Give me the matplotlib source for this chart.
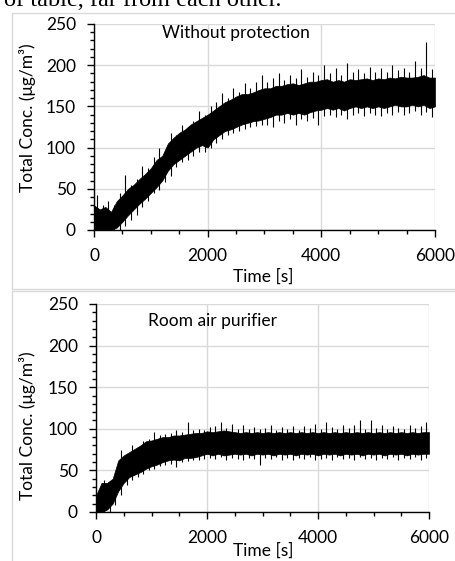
import matplotlib.pyplot as plt
from matplotlib.patches import Rectangle
from matplotlib.ticker import MultipleLocator

W, H = 455, 561

# sample times [s] for the dense core of each trace
times = list(range(0, 6001, 100))
# times of the individual excursions read between the core samples
edge_t = list(range(50, 6000, 100))

# Without protection: lower / upper edge of the solid core (ug/m3)
nop_lo = [0, 0, 0, 0, 3, 10, 18, 25, 32, 38,
          45, 52, 60, 72, 80, 85, 90, 95, 100, 103,
          100, 110, 115, 120, 122, 125, 128, 130, 132, 133,
          135, 137, 140, 140, 142, 140, 142, 140, 143, 145,
          146, 148, 146, 148, 145, 148, 150, 148, 150, 148,
          150, 148, 150, 152, 150, 150, 152, 150, 152, 148, 150]
nop_hi = [30, 25, 28, 22, 35, 42, 50, 55, 62, 68,
          75, 85, 90, 105, 112, 118, 122, 128, 132, 136,
          140, 145, 150, 155, 158, 162, 165, 165, 167, 170,
          172, 172, 175, 175, 177, 178, 176, 178, 180, 180,
          182, 183, 180, 182, 180, 183, 182, 183, 184, 182,
          184, 183, 185, 184, 186, 185, 185, 186, 188, 185, 185]
# Without protection: peaks and troughs between the core samples
nop_peak = [42, 30, 35, 30, 45, 67, 55, 62, 78, 75,
            89, 100, 95, 118, 115, 128, 125, 132, 145, 140,
            150, 155, 166, 160, 172, 168, 178, 172, 180, 188,
            180, 185, 190, 182, 188, 185, 195, 186, 192, 188,
            200, 190, 196, 188, 203, 192, 195, 190, 198, 192,
            197, 192, 200, 194, 196, 192, 205, 196, 228, 195]
nop_trough = [0, 0, 0, 0, 0, 5, 12, 18, 28, 35,
              45, 48, 58, 65, 76, 82, 85, 90, 95, 95,
              100, 105, 110, 115, 118, 120, 122, 125, 126, 128,
              128, 125, 132, 130, 135, 127, 135, 132, 136, 128,
              138, 140, 137, 140, 135, 140, 142, 138, 142, 140,
              138, 142, 140, 143, 140, 142, 144, 140, 143, 137]

# Room air purifier
rap_lo = [0, 0, 3, 10, 25, 35, 42, 45, 48, 52,
          55, 57, 60, 62, 63, 62, 65, 65, 66, 68,
          70, 68, 70, 68, 69, 70, 69, 70, 68, 70,
          69, 70, 68, 70, 69, 70, 68, 70, 69, 70,
          68, 70, 69, 70, 68, 70, 69, 70, 68, 70,
          69, 70, 68, 70, 69, 70, 68, 70, 69, 70, 70]
rap_hi = [20, 35, 35, 40, 62, 68, 72, 76, 80, 85,
          86, 88, 90, 90, 92, 92, 93, 94, 95, 95,
          97, 96, 97, 98, 97, 96, 95, 96, 95, 96,
          95, 96, 95, 96, 95, 96, 95, 96, 95, 96,
          95, 96, 95, 96, 95, 96, 95, 96, 95, 96,
          95, 96, 95, 96, 95, 96, 95, 96, 95, 96, 96]
rap_peak = [22, 38, 37, 40, 75, 70, 80, 78, 85, 88,
            96, 92, 94, 95, 98, 96, 108, 98, 100, 99,
            102, 103, 108, 101, 106, 100, 104, 100, 102, 100,
            101, 104, 99, 102, 100, 103, 99, 103, 101, 106,
            100, 108, 102, 100, 104, 101, 104, 111, 100, 111,
            101, 104, 100, 103, 101, 100, 105, 101, 103, 108]
rap_trough = [0, 0, 0, 8, 20, 32, 38, 42, 46, 50,
              52, 55, 56, 58, 54, 60, 61, 62, 63, 64,
              65, 64, 66, 63, 65, 64, 62, 65, 64, 56,
              65, 64, 66, 63, 65, 62, 65, 64, 66, 63,
              64, 65, 63, 66, 64, 65, 63, 66, 64, 65,
              62, 65, 64, 66, 63, 65, 64, 66, 63, 65]

FONT = "Lato"
FS = 12.5
GRID = "#d9d9d9"


def px_axes(fig, left, top, right, bottom):
    return fig.add_axes([left / W, 1 - bottom / H, (right - left) / W, (bottom - top) / H])


def draw_panel(ax, lo, hi, peak, trough, title, title_x, title_y):
    ax.fill_between(times, lo, hi, color="black", lw=0.5, edgecolor="black")
    ax.vlines(edge_t, trough, peak, color="black", lw=0.8)
    ax.set_xlim(0, 6000)
    ax.set_ylim(0, 250)
    ax.xaxis.set_major_locator(MultipleLocator(2000))
    ax.xaxis.set_minor_locator(MultipleLocator(500))
    ax.yaxis.set_major_locator(MultipleLocator(50))
    ax.yaxis.set_minor_locator(MultipleLocator(10))
    ax.grid(True, which="major", color=GRID, lw=1)
    ax.set_axisbelow(True)
    for s in ["top", "right"]:
        ax.spines[s].set_visible(False)
    for s in ["left", "bottom"]:
        ax.spines[s].set_linewidth(1.0)
        ax.spines[s].set_zorder(5)
    ax.tick_params(which="major", length=5, width=1, direction="out", labelsize=FS)
    ax.tick_params(which="minor", length=3, width=1, direction="out")
    ax.tick_params(axis="y", which="major", pad=8)
    ax.tick_params(axis="x", which="major", pad=8)
    for lab in ax.get_xticklabels() + ax.get_yticklabels():
        lab.set_family(FONT)
    ax.text(title_x, title_y, title, transform=ax.transAxes, ha="left", va="center",
            fontsize=FS, family=FONT)


fig = plt.figure(figsize=(W / 100, H / 100), dpi=100)

# the two chart frames (right side runs past the picture edge)
fig.add_artist(Rectangle((12 / W, 1 - 289 / H), 1.0, 276 / H, transform=fig.transFigure,
                         fill=False, edgecolor=GRID, lw=1))
fig.add_artist(Rectangle((12 / W, -0.01), 1.0, 1 - 291 / H + 0.01, transform=fig.transFigure,
                         fill=False, edgecolor=GRID, lw=1))

ax1 = px_axes(fig, 94, 24, 435, 230)
draw_panel(ax1, nop_lo, nop_hi, nop_peak, nop_trough, "Without protection", 0.199, 0.956)
ax2 = px_axes(fig, 96, 304, 429, 512)
draw_panel(ax2, rap_lo, rap_hi, rap_peak, rap_trough, "Room air purifier", 0.156, 0.918)

fig.text(28 / W, 1 - 118 / H, "Total Conc. (μg/m³)", rotation=90, ha="center", va="center",
         fontsize=FS, family=FONT)
fig.text(28 / W, 1 - 426 / H, "Total Conc. (μg/m³)", rotation=90, ha="center", va="center",
         fontsize=FS, family=FONT)
fig.text(263 / W, 1 - 277 / H, "Time [s]", ha="center", va="center", fontsize=FS, family=FONT)
fig.text(263 / W, 1 - 551 / H, "Time [s]", ha="center", va="center", fontsize=FS, family=FONT)

# cut-off line of body text above the charts
fig.text(4 / W, 1 - 6 / H, "of table, far from each other.", ha="left", va="baseline",
         fontsize=17.5, family="Liberation Serif")

fig.savefig("out.png", dpi=100)
